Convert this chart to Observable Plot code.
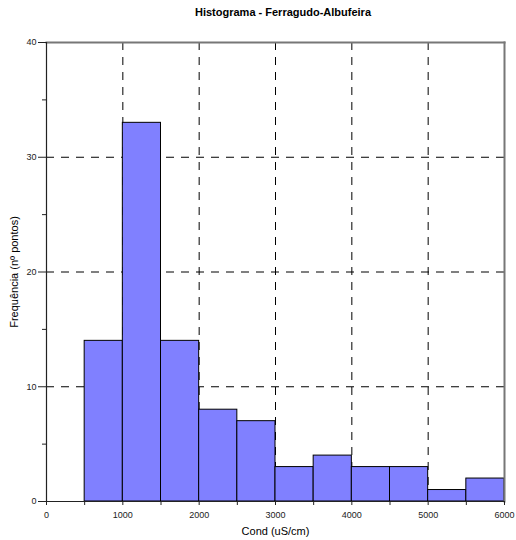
<!DOCTYPE html>
<html>
<head>
<meta charset="utf-8">
<script src="https://cdn.jsdelivr.net/npm/d3@7"></script>
<script src="https://cdn.jsdelivr.net/npm/@observablehq/plot@0.6"></script>
<style>
  body { margin: 0; background: #fff; font-family: "Liberation Sans", Arial, sans-serif; }
  #title { height: 30px; box-sizing: border-box; padding-top: 6px; padding-left: 50px; text-align: center; font-weight: bold; font-size: 11px; line-height: 13px; color: #000; width: 516px; }
  #chart svg { display: block; }
</style>
</head>
<body>
<div id="title">Histograma - Ferragudo-Albufeira</div>
<div id="chart"></div>
<script>
const binStarts = [500, 1000, 1500, 2000, 2500, 3000, 3500, 4000, 4500, 5000, 5500];
const binWidth = 500;
const counts = [14, 33, 14, 8, 7, 3, 4, 3, 3, 1, 2];
const xTicks = [0, 1000, 2000, 3000, 4000, 5000, 6000];
const xMinorTicks = [500, 1500, 2500, 3500, 4500, 5500];
const yTicks = [0, 10, 20, 30, 40];
const yMinorTicks = [5, 15, 25, 35];
const xGrid = [1000, 2000, 3000, 4000, 5000];
const yGrid = [10, 20, 30];

const bins = binStarts.map((s, i) => ({x1: s, x2: s + binWidth, n: counts[i]}));

const chart = Plot.plot({
  width: 516,
  height: 510,
  marginTop: 12,
  marginBottom: 39,
  marginLeft: 46,
  marginRight: 12,
  style: {fontFamily: "Liberation Sans, Arial, sans-serif", fontSize: "9px", color: "#222", background: "#fff"},
  x: {domain: [0, 6000]},
  y: {domain: [0, 40]},
  marks: [
    Plot.ruleX(xGrid, {stroke: "#000", strokeDasharray: "8,7", strokeWidth: 1}),
    Plot.ruleY(yGrid, {stroke: "#000", strokeDasharray: "8,7", strokeWidth: 1}),
    Plot.rectY(bins, {x1: "x1", x2: "x2", y1: 0, y2: "n", fill: "#8080ff", stroke: "#000", strokeWidth: 1}),
    Plot.frame({stroke: "#777", strokeWidth: 2, anchor: "top"}),
    Plot.frame({stroke: "#777", strokeWidth: 2, anchor: "right"}),
    Plot.axisX(xMinorTicks, {tickSize: 4, text: null, label: null, stroke: "#222"}),
    Plot.axisX(xTicks, {tickSize: 4, tickPadding: 6, tickFormat: d => String(d), label: "Cond (uS/cm)", labelAnchor: "center", labelArrow: "none", labelOffset: 33, fontSize: 9}),
    Plot.axisY(yMinorTicks, {tickSize: 4, text: null, label: null, stroke: "#222"}),
    Plot.axisY(yTicks, {tickSize: 8, tickPadding: 2, label: "Frequência (nº pontos)", labelAnchor: "center", labelArrow: "none", labelOffset: 36}),
    Plot.ruleY([0], {stroke: "#222", strokeWidth: 1.2}),
    Plot.ruleX([0], {stroke: "#222", strokeWidth: 1.2})
  ]
});

// enlarge axis label fonts
chart.querySelectorAll("[aria-label='x-axis label'] text, [aria-label='y-axis label'] text").forEach(t => {
  t.style.fontSize = "11px";
  t.style.fill = "#000";
});
document.getElementById("chart").appendChild(chart);
</script>
</body>
</html>
